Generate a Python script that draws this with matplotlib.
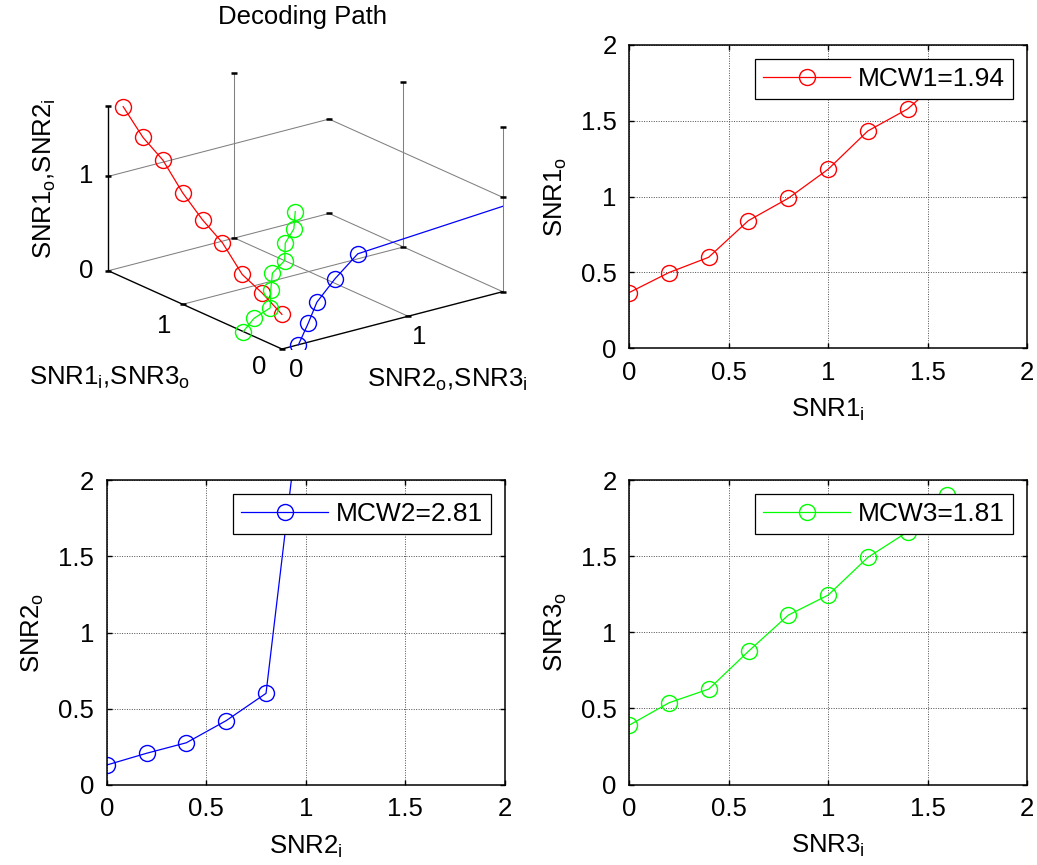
import numpy as np
import matplotlib
matplotlib.use("Agg")
import matplotlib.pyplot as plt
from matplotlib.patches import Rectangle
from mpl_toolkits.mplot3d import proj3d

plt.rcParams["font.family"] = ["Liberation Sans", "DejaVu Sans"]
plt.rcParams["font.size"] = 18.5

# ---- data -------------------------------------------------------------
snr1_in = [0.0, 0.2, 0.4, 0.6, 0.8, 1.0, 1.2, 1.4, 1.6]
snr1_out = [0.367, 0.499, 0.600, 0.842, 0.989, 1.180, 1.433, 1.578, 1.81]

snr2_in = [0.0, 0.2, 0.4, 0.6, 0.8, 1.0]
snr2_out = [0.131, 0.208, 0.277, 0.422, 0.601, 2.80]

snr3_in = [0.0, 0.2, 0.4, 0.6, 0.8, 1.0, 1.2, 1.4, 1.6]
snr3_out = [0.390, 0.537, 0.627, 0.876, 1.113, 1.244, 1.492, 1.66, 1.90]

legend_labels = ["MCW1=1.94", "MCW2=2.81", "MCW3=1.81"]
colors = ["#ff0000", "#0000ff", "#00ff00"]

axis_ticks = [0, 0.5, 1, 1.5, 2]
axis_tick_labels = ["0", "0.5", "1", "1.5", "2"]
path_ticks = [0, 1]
path_limit = 1.75

W, H = 1037, 865
fig = plt.figure(figsize=(W / 100, H / 100), dpi=100)
fig.patch.set_facecolor("white")

FS = 18.5
LW = 0.9
MS = 11.5
MEW = 1.0


def px_rect(left, top, right, bottom):
    """Figure-fraction rect from pixel edges (y measured from the top)."""
    return [left / W, 1 - bottom / H, (right - left) / W, (bottom - top) / H]


def sub(name, idx):
    return name + r"$_\mathregular{" + idx + "}$"


# ---- 2-D transfer curves --------------------------------------------------
def exit_panel(rect, xs, ys, color, label, xlab, ylab):
    ax = fig.add_axes(rect)
    ax.plot(xs, ys, color=color, lw=LW, marker="o", ms=MS, mfc="none",
            mec=color, mew=MEW, label=label)
    ax.set_xlim(0, 2)
    ax.set_ylim(0, 2)
    ax.set_xticks(axis_ticks)
    ax.set_xticklabels(axis_tick_labels)
    ax.set_yticks(axis_ticks)
    ax.set_yticklabels(axis_tick_labels)
    ax.grid(True, color="0.3", ls=(0, (1, 1.5)), lw=0.7)
    ax.tick_params(direction="in", top=True, right=True, length=3.5,
                   width=1.0, labelsize=FS)
    ax.tick_params(axis="x", pad=9)
    ax.tick_params(axis="y", pad=9)
    for s in ax.spines.values():
        s.set_linewidth(1.1)
    ax.set_xlabel(xlab, fontsize=FS)
    ax.xaxis.set_label_coords(0.5, -0.158)
    ax.set_ylabel(ylab, fontsize=FS)
    ax.yaxis.set_label_coords(-0.152, 0.5)
    leg = ax.legend(loc="upper right", fontsize=19, frameon=True,
                    fancybox=False, framealpha=1, edgecolor="k",
                    borderpad=0.3, handlelength=3.3, handletextpad=0.3,
                    borderaxespad=0.53)
    leg.get_frame().set_linewidth(0.9)
    return ax


exit_panel(px_rect(629, 45, 1027, 348.3), snr1_in, snr1_out, colors[0],
           legend_labels[0], sub("SNR1", "i"), sub("SNR1", "o"))
exit_panel(px_rect(106.7, 480, 505, 785), snr2_in, snr2_out, colors[1],
           legend_labels[1], sub("SNR2", "i"), sub("SNR2", "o"))
exit_panel(px_rect(629.3, 480, 1027, 784.5), snr3_in, snr3_out, colors[2],
           legend_labels[2], sub("SNR3", "i"), sub("SNR3", "o"))

# ---- 3-D decoding path ------------------------------------------------------
L = path_limit
ax0 = fig.add_axes([0.05, 0.5, 0.4, 0.4], projection="3d")
ax0.set_proj_type("ortho")
ax0.view_init(elev=20, azim=-127.2)
ax0.set_box_aspect((0.965, 1.0, 0.612))
ax0.set_xlim(0, L)
ax0.set_ylim(0, L)
ax0.set_zlim(0, L)
ax0.set_axis_off()
ax0.patch.set_visible(False)
ax0.computed_zorder = False


def project(x, y, z):
    px, py, _ = proj3d.proj_transform(np.atleast_1d(np.asarray(x, float)),
                                      np.atleast_1d(np.asarray(y, float)),
                                      np.atleast_1d(np.asarray(z, float)),
                                      ax0.get_proj())
    return float(px[0]), float(py[0])


# place the square 3-D axes so the floor corners land where wanted
corner_left = (108.3, 270.7)    # (0, L, 0)
corner_right = (502.7, 289.3)   # (L, 0, 0)
corner_origin = (281.7, 349.0)  # (0, 0, 0)
pL = project(0, L, 0)
pR = project(L, 0, 0)
pO = project(0, 0, 0)
vx0, vx1 = ax0.viewLim.intervalx
vy0, vy1 = ax0.viewLim.intervaly
k = (corner_right[0] - corner_left[0]) / (pR[0] - pL[0])
side = k * (vx1 - vx0)
x0 = corner_left[0] - k * (pL[0] - vx0)
y0 = (H - corner_origin[1]) - k * (pO[1] - vy0)
ax0.set_position([x0 / W, y0 / H, side / W, side / H])

# clip region: bounding rectangle of the projected plot box
cx, cy = [], []
for a in (0, L):
    for b in (0, L):
        for c in (0, L):
            p = project(a, b, c)
            cx.append(p[0])
            cy.append(p[1])
clip_rect = Rectangle((min(cx), min(cy)), max(cx) - min(cx), max(cy) - min(cy),
                      transform=ax0.transData)

grid_kw = dict(color="0.5", lw=0.75)
for t in path_ticks[1:]:
    ax0.plot([t, t], [0, L], [0, 0], **grid_kw)
    ax0.plot([0, L], [t, t], [0, 0], **grid_kw)
    ax0.plot([t, t], [L, L], [0, L], **grid_kw)
for t in path_ticks:
    ax0.plot([0, L], [L, L], [t, t], **grid_kw)
    ax0.plot([L, L], [0, L], [t, t], **grid_kw)
    ax0.plot([L, L], [t, t], [0, L], **grid_kw)

axis_kw = dict(color="k", lw=1.0)
ax0.plot([0, L], [0, 0], [0, 0], **axis_kw)
ax0.plot([0, 0], [0, L], [0, 0], **axis_kw)
ax0.plot([0, 0], [L, L], [0, L], **axis_kw)

tick_pts = [(0, L, 0), (0, L, 1), (0, L, L), (1, L, L), (1, L, 0),
            (L, L, 0), (L, L, 1), (L, 1, L), (L, 1, 0), (L, 0, L),
            (L, 0, 1), (L, 0, 0), (0, 1, 0), (1, 0, 0), (0, 0, 0)]
ax0.plot([p[0] for p in tick_pts], [p[1] for p in tick_pts],
         [p[2] for p in tick_pts], ls="none", marker="_", ms=4, mew=1.8,
         color="k")

zeros1 = np.zeros(len(snr1_in))
zeros2 = np.zeros(len(snr2_in))
zeros3 = np.zeros(len(snr3_in))
path_lines = []
path_lines += ax0.plot(zeros1, snr1_in, snr1_out, color=colors[0], lw=LW,
                       marker="o", ms=MS, mfc="none", mec=colors[0], mew=MEW)
path_lines += ax0.plot(snr2_out, zeros2, snr2_in, color=colors[1], lw=LW,
                       marker="o", ms=MS, mfc="none", mec=colors[1], mew=MEW)
path_lines += ax0.plot(snr3_in, snr3_out, zeros3, color=colors[2], lw=LW,
                       marker="o", ms=MS, mfc="none", mec=colors[2], mew=MEW)
for ln in path_lines:
    ln.set_clip_path(clip_rect)


def label3d(text, xyz, offset, **kw):
    p = project(*xyz)
    ax0.annotate(text, xy=p, xycoords="data", xytext=offset,
                 textcoords="offset pixels", ha="center", va="center",
                 annotation_clip=False, fontsize=FS, **kw)


for t in path_ticks:
    label3d(str(t), (0, L, t), (-22, 0))
label3d("1", (0, 1, 0), (-19, -22))
label3d("0", (0, 0, 0), (-23, -18))
label3d("0", (0, 0, 0), (14, -21))
label3d("1", (1, 0, 0), (11, -21))
label3d(sub("SNR1", "o") + "," + sub("SNR2", "i"), (0, L, L / 2), (-64, 10),
        rotation=90)
label3d(sub("SNR1", "i") + "," + sub("SNR3", "o"), (0, L / 2, 0), (-86, -68))
label3d(sub("SNR2", "o") + "," + sub("SNR3", "i"), (L / 2, 0, 0), (55, -59))

fig.text(303 / W, 1 - 17 / H, "Decoding Path", ha="center", va="center",
         fontsize=FS)

fig.savefig("out.png", dpi=100)
